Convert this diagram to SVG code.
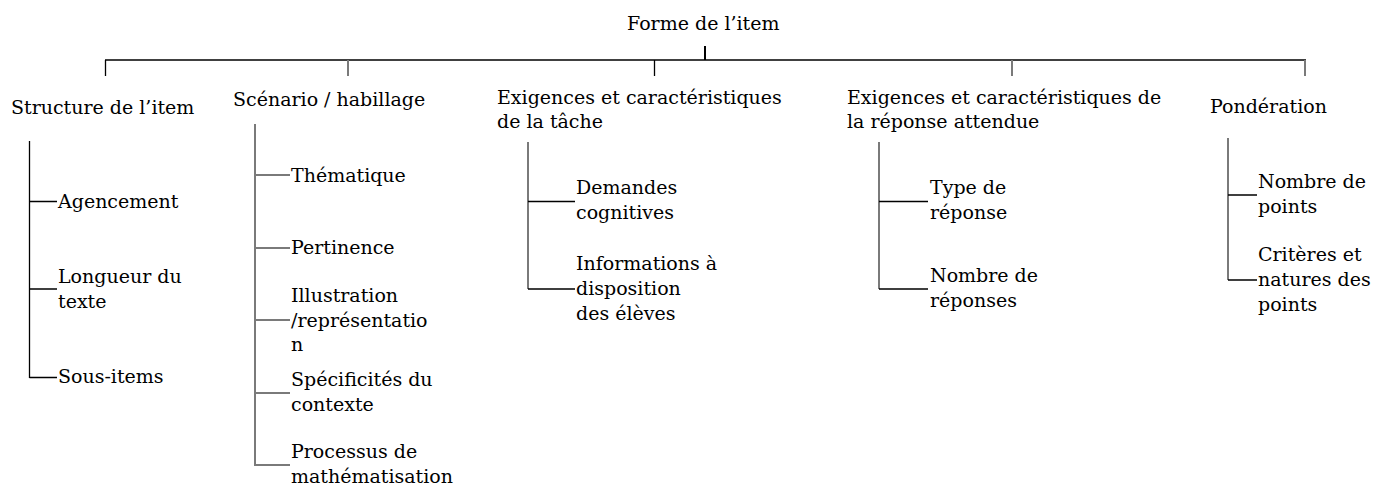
<svg xmlns="http://www.w3.org/2000/svg" width="1386" height="485" viewBox="0 0 1386 485">
<style>
text{font-family:"DejaVu Serif","Liberation Serif",serif;font-size:19px;fill:#000}
.k{stroke:#000;stroke-width:1.3;fill:none}
.g{stroke:#7a7a7a;stroke-width:2;fill:none}
</style>
<rect width="1386" height="485" fill="#fff"/>
<g id="connectors">
<line class="k" x1="705" y1="46" x2="705" y2="60" style="stroke-width:2"/>
<line class="k" x1="105" y1="60" x2="1306" y2="60"/>
<line class="k" x1="105.5" y1="60" x2="105.5" y2="76"/>
<line class="g" x1="348" y1="60" x2="348" y2="76"/>
<line class="k" x1="654.5" y1="60" x2="654.5" y2="76"/>
<line class="g" x1="1012" y1="60" x2="1012" y2="76"/>
<line class="g" x1="1305" y1="60" x2="1305" y2="76"/>
<path class="k" d="M29.5 141V378M29.5 201.5H57M29.5 289H57M29.5 377.5H57"/>
<path class="g" d="M255 124V466M255 175H290M255 248H290M255 320H290M255 393H290M255 465H290"/>
<path class="g" d="M528 142V289"/>
<path class="k" d="M528 201.5H575M528 289H575"/>
<path class="g" d="M879 142V289"/>
<path class="k" d="M879 201.5H928M879 289H928"/>
<path class="g" d="M1228 138V280"/>
<path class="k" d="M1228 195H1257M1228 280H1257"/>
</g>
<g id="root"><text x="627" y="30">Forme de l’item</text></g>
<g id="n1"><text x="11" y="114">Structure de l’item</text></g>
<g id="n1a"><text x="58" y="208">Agencement</text></g>
<g id="n1b"><text x="58" y="283">Longueur du</text><text x="58" y="308">texte</text></g>
<g id="n1c"><text x="58" y="383">Sous-items</text></g>
<g id="n2"><text x="233" y="106">Scénario / habillage</text></g>
<g id="n2a"><text x="291" y="182">Thématique</text></g>
<g id="n2b"><text x="291" y="254">Pertinence</text></g>
<g id="n2c"><text x="291" y="302">Illustration</text><text x="291" y="327">/représentatio</text><text x="291" y="351">n</text></g>
<g id="n2d"><text x="291" y="386">Spécificités du</text><text x="291" y="411">contexte</text></g>
<g id="n2e"><text x="291" y="458">Processus de</text><text x="291" y="483">mathématisation</text></g>
<g id="n3"><text x="497" y="104">Exigences et caractéristiques</text><text x="497" y="128">de la tâche</text></g>
<g id="n3a"><text x="576" y="194">Demandes</text><text x="576" y="219">cognitives</text></g>
<g id="n3b"><text x="576" y="270">Informations à</text><text x="576" y="295">disposition</text><text x="576" y="320">des élèves</text></g>
<g id="n4"><text x="847" y="104">Exigences et caractéristiques de</text><text x="847" y="128">la réponse attendue</text></g>
<g id="n4a"><text x="930" y="194">Type de</text><text x="930" y="219">réponse</text></g>
<g id="n4b"><text x="930" y="282">Nombre de</text><text x="930" y="307">réponses</text></g>
<g id="n5"><text x="1210" y="113">Pondération</text></g>
<g id="n5a"><text x="1258" y="188">Nombre de</text><text x="1258" y="213">points</text></g>
<g id="n5b"><text x="1258" y="261">Critères et</text><text x="1258" y="286">natures des</text><text x="1258" y="311">points</text></g>
</svg>
